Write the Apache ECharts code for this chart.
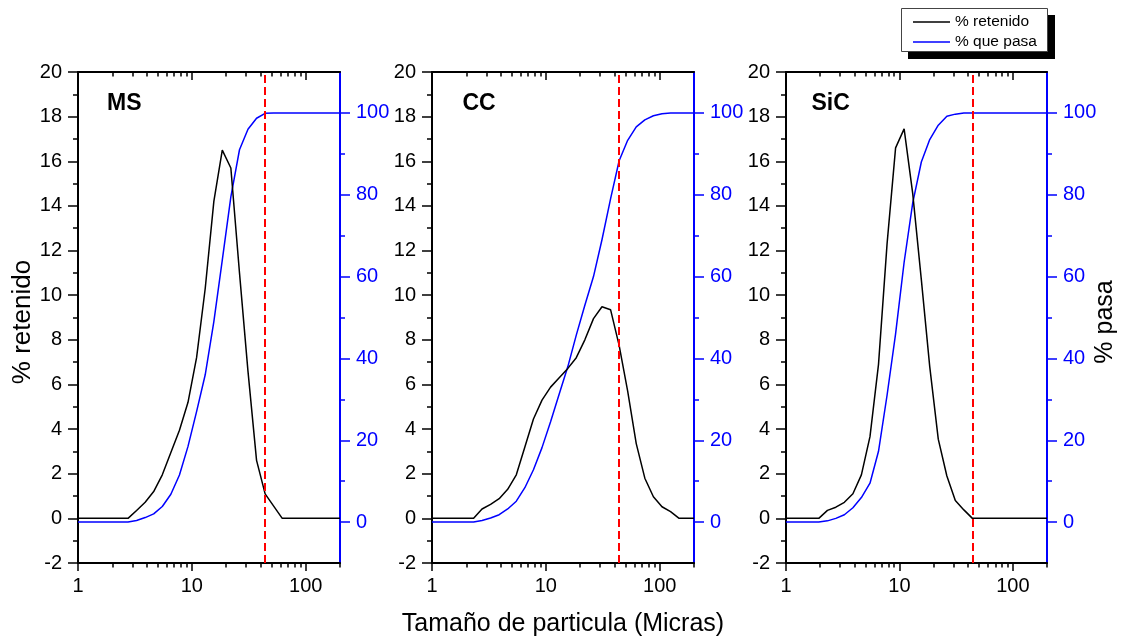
<!DOCTYPE html>
<html><head><meta charset="utf-8">
<script src="https://cdn.jsdelivr.net/npm/echarts@6/dist/echarts.min.js"></script>
<style>html,body{margin:0;padding:0;background:#fff}#c{width:1125px;height:641px}</style>
</head><body><div id="c"></div>
<script>
// ---- data ----
const sizes = [1, 1.945, 2.32, 2.75, 3.27, 3.89, 4.62, 5.5, 6.54, 7.78, 9.25, 11.0, 13.1, 15.6, 18.5, 22.0, 26.2, 31.1, 37.0, 44.0, 52.3, 62.2, 74.0, 88.0, 104.7, 124.5, 148.0, 176.0, 200];
const msRetenido  = [0, 0, 0, 0, 0.35, 0.72, 1.2, 1.95, 2.95, 3.95, 5.2, 7.2, 10.3, 14.2, 16.5, 15.7, 11.0, 6.6, 2.6, 1.1, 0.55, 0, 0, 0, 0, 0, 0, 0, 0];
const msPasa      = [0, 0, 0, 0, 0.4, 1.1, 2.0, 3.8, 6.8, 11.5, 18.5, 27, 36, 49, 64, 79.5, 91, 96, 98.7, 99.9, 100, 100, 100, 100, 100, 100, 100, 100, 100];
const ccRetenido  = [0, 0, 0, 0.42, 0.63, 0.88, 1.3, 1.95, 3.2, 4.45, 5.3, 5.88, 6.3, 6.72, 7.2, 8.0, 8.95, 9.48, 9.35, 7.75, 5.7, 3.35, 1.8, 0.97, 0.52, 0.3, 0, 0, 0];
const ccPasa      = [0, 0, 0, 0.4, 1.0, 1.8, 3.2, 5.1, 8.4, 12.8, 18.2, 24.5, 31.3, 38, 45.7, 53, 60, 69, 79, 88.3, 93.3, 96.6, 98.3, 99.3, 99.8, 100, 100, 100, 100];
const sicRetenido = [0, 0, 0.36, 0.5, 0.72, 1.1, 1.95, 3.66, 6.9, 12.3, 16.6, 17.45, 14.55, 10.7, 6.8, 3.55, 1.9, 0.8, 0.38, 0, 0, 0, 0, 0, 0, 0, 0, 0, 0];
const sicPasa     = [0, 0, 0.3, 0.9, 1.8, 3.5, 6.0, 9.5, 17.3, 31, 46, 63.5, 78, 88, 93.5, 97, 99.2, 99.7, 100, 100, 100, 100, 100, 100, 100, 100, 100, 100, 100];
const panelNames = ['MS', 'CC', 'SiC'];
const xMajorTicks = [1, 10, 100];
const xTopMajorTicks = [10, 100];
const xMinorTicks = [2, 3, 4, 5, 6, 7, 8, 9, 20, 30, 40, 50, 60, 70, 80, 90, 200];
const xTopMinorTicks = [2, 3, 4, 5, 6, 7, 8, 9, 20, 30, 40, 50, 60, 70, 80, 90];
const rightMajorTicks = [0, 20, 40, 60, 80, 100];
const rightMinorTicks = [10, 30, 50, 70, 90];
const cutSize = 44;
const seriesNames = ['% retenido', '% que pasa'];
const xTitle = 'Tamaño de particula (Micras)';
const leftTitle = '% retenido';
const rightTitle = '% pasa';

const retenidos = [msRetenido, ccRetenido, sicRetenido];
const pasas = [msPasa, ccPasa, sicPasa];

// ---- layout ----
const FONT = "'Liberation Sans', Arial, sans-serif";
const TICK_FS = 20;
const gridBoxes = [
  {left: 78, top: 72, width: 262, height: 491},
  {left: 432, top: 72, width: 262, height: 491},
  {left: 786, top: 72, width: 261, height: 491}
];
const titlePos = [[107, 103.5], [462.5, 103.5], [811.5, 103.5]];

const grid = [], xAxis = [], yAxis = [], series = [], graphic = [];
const BLUE = '#0000ff';

gridBoxes.forEach((g, i) => {
  grid.push(Object.assign({containLabel: false}, g));
  const baseX = {gridIndex: i, type: 'log', logBase: 10, min: 1, max: 200, splitLine: {show: false}, minorSplitLine: {show: false}};
  xAxis.push(Object.assign({}, baseX, {
    position: 'bottom',
    axisLine: {show: true, onZero: false, lineStyle: {color: '#000', width: 2}},
    axisTick: {show: true, inside: false, length: 8, customValues: xMajorTicks, lineStyle: {color: '#000', width: 1.5}},
    axisLabel: {show: true, customValues: xMajorTicks, margin: 13, color: '#000', fontSize: TICK_FS, fontFamily: FONT}
  }));
  xAxis.push(Object.assign({}, baseX, {
    position: 'bottom',
    axisLine: {show: false, onZero: false},
    axisTick: {show: true, inside: false, length: 4.5, customValues: xMinorTicks, lineStyle: {color: '#000', width: 1.5}},
    axisLabel: {show: false}
  }));
  xAxis.push(Object.assign({}, baseX, {
    position: 'top',
    axisLine: {show: true, onZero: false, lineStyle: {color: '#000', width: 2}},
    axisTick: {show: true, inside: true, length: 8, customValues: xTopMajorTicks, lineStyle: {color: '#000', width: 1.5}},
    axisLabel: {show: false}
  }));
  xAxis.push(Object.assign({}, baseX, {
    position: 'top',
    axisLine: {show: false, onZero: false},
    axisTick: {show: true, inside: true, length: 4.5, customValues: xTopMinorTicks, lineStyle: {color: '#000', width: 1.5}},
    axisLabel: {show: false}
  }));

  yAxis.push({
    gridIndex: i, type: 'value', min: -2, max: 20, interval: 2, position: 'left',
    axisLine: {show: true, onZero: false, lineStyle: {color: '#000', width: 2}},
    axisTick: {show: true, inside: false, length: 10, lineStyle: {color: '#000', width: 1.5}},
    minorTick: {show: true, splitNumber: 2, length: 5, lineStyle: {color: '#000', width: 1.5}},
    axisLabel: {margin: 16, color: '#000', fontSize: TICK_FS, fontFamily: FONT},
    splitLine: {show: false}, minorSplitLine: {show: false}
  });
  yAxis.push({
    gridIndex: i, type: 'value', min: -10, max: 110, position: 'right',
    axisLine: {show: true, onZero: false, lineStyle: {color: BLUE, width: 2}},
    axisTick: {show: true, inside: false, length: 10, customValues: rightMajorTicks, lineStyle: {color: BLUE, width: 1.5}},
    axisLabel: {customValues: rightMajorTicks, margin: 16, color: BLUE, fontSize: TICK_FS, fontFamily: FONT},
    splitLine: {show: false}
  });
  yAxis.push({
    gridIndex: i, type: 'value', min: -10, max: 110, position: 'right',
    axisLine: {show: false, onZero: false},
    axisTick: {show: true, inside: false, length: 5, customValues: rightMinorTicks, lineStyle: {color: BLUE, width: 1.5}},
    axisLabel: {show: false},
    splitLine: {show: false}
  });

  series.push({
    name: seriesNames[0], type: 'line', xAxisIndex: 4 * i, yAxisIndex: 3 * i,
    data: sizes.map((s, k) => [s, retenidos[i][k]]),
    symbol: 'none', lineStyle: {color: '#000', width: 1.5}, itemStyle: {color: '#000'},
    z: 3,
    markLine: {
      silent: true, symbol: ['none', 'none'], label: {show: false},
      lineStyle: {color: '#ff0000', type: [8, 4], width: 2},
      data: [{xAxis: cutSize}], z: 5
    }
  });
  series.push({
    name: seriesNames[1], type: 'line', xAxisIndex: 4 * i, yAxisIndex: 3 * i + 1,
    data: sizes.map((s, k) => [s, pasas[i][k]]),
    symbol: 'none', lineStyle: {color: BLUE, width: 1.5}, itemStyle: {color: BLUE},
    z: 2
  });

  graphic.push({
    type: 'text', x: titlePos[i][0], y: titlePos[i][1],
    style: {text: panelNames[i], font: 'bold 23px ' + FONT, fill: '#000', textAlign: 'left', textVerticalAlign: 'middle'}
  });
});

graphic.push({
  type: 'text', x: 563, y: 624,
  style: {text: xTitle, font: '25px ' + FONT, fill: '#000', textAlign: 'center', textVerticalAlign: 'middle'}
});
graphic.push({
  type: 'text', x: 23, y: 322, rotation: Math.PI / 2,
  style: {text: leftTitle, font: '26px ' + FONT, fill: '#000', textAlign: 'center', textVerticalAlign: 'middle'}
});
graphic.push({
  type: 'text', x: 1105, y: 322, rotation: Math.PI / 2,
  style: {text: rightTitle, font: '25px ' + FONT, fill: '#000', textAlign: 'center', textVerticalAlign: 'middle'}
});
// legend frame with drop shadow
graphic.push({type: 'rect', z: 0, shape: {x: 908, y: 15, width: 147, height: 44}, style: {fill: '#000'}});
graphic.push({type: 'rect', z: 1, shape: {x: 901.5, y: 8.5, width: 146, height: 43}, style: {fill: '#fff', stroke: '#444', lineWidth: 1}});

const chart = echarts.init(document.getElementById('c'), null, {renderer: 'canvas'});
chart.setOption({
  backgroundColor: '#fff',
  animation: false,
  textStyle: {fontFamily: FONT},
  legend: {
    data: seriesNames.map(n => ({name: n, icon: 'rect'})),
    orient: 'vertical', left: 901, top: 8,
    itemWidth: 37, itemHeight: 1.5, itemGap: 4, itemTextGap: 5,
    padding: [6, 12, 4, 12],
    textStyle: {fontSize: 15.5, color: '#000', fontFamily: FONT, lineHeight: 15}
  },
  grid, xAxis, yAxis, series, graphic
});
</script>
</body></html>
